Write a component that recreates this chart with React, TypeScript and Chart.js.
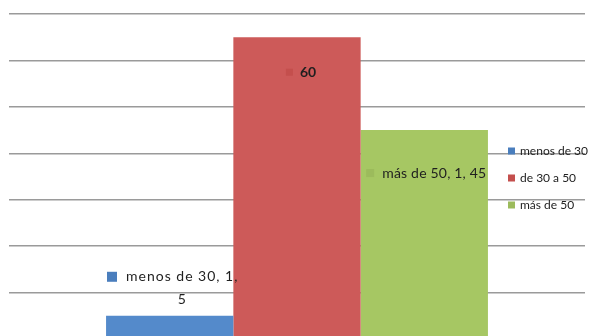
import React, { useEffect, useRef } from "react";
import { Chart, registerables } from "chart.js";

Chart.register(...registerables);

const categories = ["1"];
const seriesNames = ["menos de 30", "de 30 a 50", "más de 50"];
const menosDe30 = [5];
const de30a50 = [65];
const masDe50 = [45];
const dataLabelLines = [["menos de 30, 1,", "5"], ["60"], ["más de 50, 1, 45"]];
const yMin = 0;
const yMax = 70;
const yStep = 10;

const barColors = ["#548acb", "#cd5a59", "#a6c763"];
const keyColors = ["#4a7ebd", "#c44f4d", "#9cbb5c"];
const FONT = "Lato, 'Open Sans', sans-serif";

// label styling per series (offsets relative to the bar element)
const labelStyle = [
  { dx: 3, dy: -39, sq: 10, gap: 9, size: 14, weight: "normal", lineGap: 23, spacing: 1 },
  { dx: 4, dy: 35, sq: 7, gap: 7, size: 14, weight: "bold", lineGap: 16, spacing: 0 },
  { dx: 2, dy: 43, sq: 8, gap: 8, size: 14, weight: "normal", lineGap: 16, spacing: 0.2 },
];

const dataLabelPlugin = {
  id: "dataLabelPlugin",
  afterDatasetsDraw(chart: any) {
    const ctx = chart.ctx;
    chart.data.datasets.forEach((ds: any, i: number) => {
      const meta = chart.getDatasetMeta(i);
      const bar = meta.data[0];
      if (!bar) return;
      const st = labelStyle[i];
      const lines = dataLabelLines[i];
      ctx.save();
      ctx.font = `${st.weight} ${st.size}px ${FONT}`;
      (ctx as any).letterSpacing = `${st.spacing}px`;
      ctx.textBaseline = "middle";
      ctx.fillStyle = "#1f1f1f";
      const w1 = ctx.measureText(lines[0]).width;
      const blockW = st.sq + st.gap + w1;
      const bx = bar.x - blockW / 2 + st.dx;
      const y0 = bar.y + st.dy;
      ctx.fillStyle = keyColors[i];
      ctx.fillRect(bx, y0 - st.sq / 2, st.sq, st.sq);
      ctx.fillStyle = "#1f1f1f";
      const tx = bx + st.sq + st.gap;
      const tcx = tx + w1 / 2;
      lines.forEach((ln, k) => {
        ctx.textAlign = "center";
        ctx.fillText(ln, tcx, y0 + k * st.lineGap);
      });
      ctx.restore();
    });
  },
};

const legendPlugin = {
  id: "customLegend",
  afterDraw(chart: any) {
    const ctx = chart.ctx;
    const area = chart.chartArea;
    const x = area.right - 77;
    const y = 151;
    ctx.save();
    ctx.font = `12px ${FONT}`;
    ctx.textBaseline = "middle";
    ctx.textAlign = "left";
    seriesNames.forEach((name, i) => {
      const yy = y + i * 27;
      ctx.fillStyle = keyColors[i];
      ctx.fillRect(x, yy - 3.5, 7, 7);
      ctx.fillStyle = "#222";
      ctx.fillText(name, x + 12, yy);
    });
    ctx.restore();
  },
};

export default function App() {
  const ref = useRef<HTMLCanvasElement>(null);
  useEffect(() => {
    if (!ref.current) return;
    const chart = new Chart(ref.current, {
      type: "bar",
      data: {
        labels: categories,
        datasets: [
          { label: seriesNames[0], data: menosDe30, backgroundColor: barColors[0] },
          { label: seriesNames[1], data: de30a50, backgroundColor: barColors[1] },
          { label: seriesNames[2], data: masDe50, backgroundColor: barColors[2] },
        ],
      },
      options: {
        animation: false,
        responsive: false,
        maintainAspectRatio: false,
        layout: { padding: { left: 9, right: 7, top: 14, bottom: 11 } },
        plugins: { legend: { display: false }, tooltip: { enabled: false } },
        datasets: { bar: { barPercentage: 1, categoryPercentage: 0.663 } },
        scales: {
          x: { display: false },
          y: {
            min: yMin,
            max: yMax,
            ticks: { display: false, stepSize: yStep },
            border: { display: false },
            grid: { color: "#9a9a9a", lineWidth: 1.5, drawTicks: false },
          },
        },
      },
      plugins: [dataLabelPlugin, legendPlugin],
    });
    return () => chart.destroy();
  }, []);
  return (
    <div
      style={{
        position: "fixed",
        left: 0,
        top: 0,
        width: 592,
        height: 336,
        overflow: "hidden",
        background: "#fff",
      }}
    >
      <canvas ref={ref} width={592} height={350} style={{ display: "block" }} />
    </div>
  );
}
